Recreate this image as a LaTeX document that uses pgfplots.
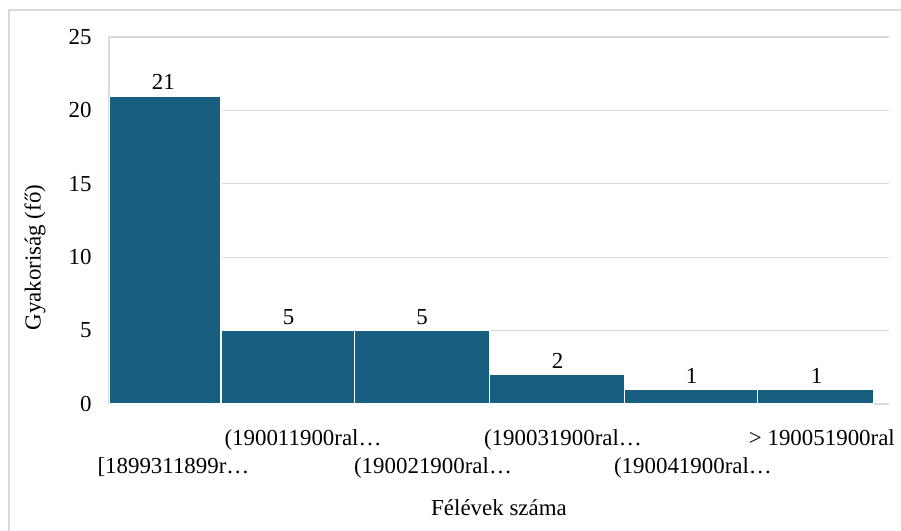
\documentclass[border=0pt]{standalone}
\usepackage{pgfplots}
\pgfplotsset{compat=1.18}
\usepackage{fontspec}
\setmainfont{Liberation Serif}
\definecolor{barblue}{RGB}{24,94,128}
\definecolor{gridgray}{RGB}{217,217,217}

\begin{document}
\fontsize{11.5}{14}\selectfont
\begin{tikzpicture}
% page = 901x531 px at 0.5bp per px, axis corner at px (109,404)
\useasboundingbox (-54.5bp,-63.5bp) rectangle (396bp,202bp);
\draw[gridgray, line width=0.8bp] (-50bp,-70bp) -- (-50bp,197bp) -- (400bp,197bp);
\begin{axis}[
    at={(0,0)}, anchor=south west,
    scale only axis,
    width=390bp, height=183.5bp,
    xmin=0, xmax=5.821,
    ymin=0, ymax=25,
    ytick={0,5,10,15,20,25},
    xtick={0.481,1.448,2.418,3.388,4.358,5.32},
    xticklabels={
        {\smash{\raisebox{-14bp}{[1899311899r…}}},
        {(190011900ral…},
        {\smash{\raisebox{-14bp}{(190021900ral…}}},
        {(190031900ral…},
        {\smash{\raisebox{-14bp}{(190041900ral…}}},
        {> 190051900ral}},
    xticklabel style={anchor=base, yshift=-20.5bp, inner sep=0pt},
    yticklabel style={anchor=east, inner sep=0pt, xshift=-8.5bp},
    /pgf/number format/assume math mode=true,
    axis x line*=bottom, axis y line*=left,
    axis line style={gridgray, line width=0.8bp, -},
    major tick length=0pt,
    ymajorgrids,
    grid style={gridgray, line width=0.6bp},
    ylabel={Gyakoriság (fő)},
    ylabel style={at={(axis description cs:-0.0949,0.399)}, anchor=center},
    xlabel={Félévek száma},
    xlabel style={at={(axis description cs:0.5,-0.2834)}, anchor=center},
    ]
    \addplot[ybar interval, fill=barblue, draw=white, line width=0.8bp]
        coordinates {(0.004,21) (0.834,5) (1.831,5) (2.840,2) (3.846,1) (4.841,1) (5.704,1)};
    \addplot[draw=none, mark=none, nodes near coords,
        every node near coord/.append style={anchor=south, inner sep=0pt, yshift=2.75bp}]
        coordinates {(0.405,21) (1.340,5) (2.336,5) (3.347,2) (4.348,1) (5.281,1)};
\end{axis}
\end{tikzpicture}
\end{document}
